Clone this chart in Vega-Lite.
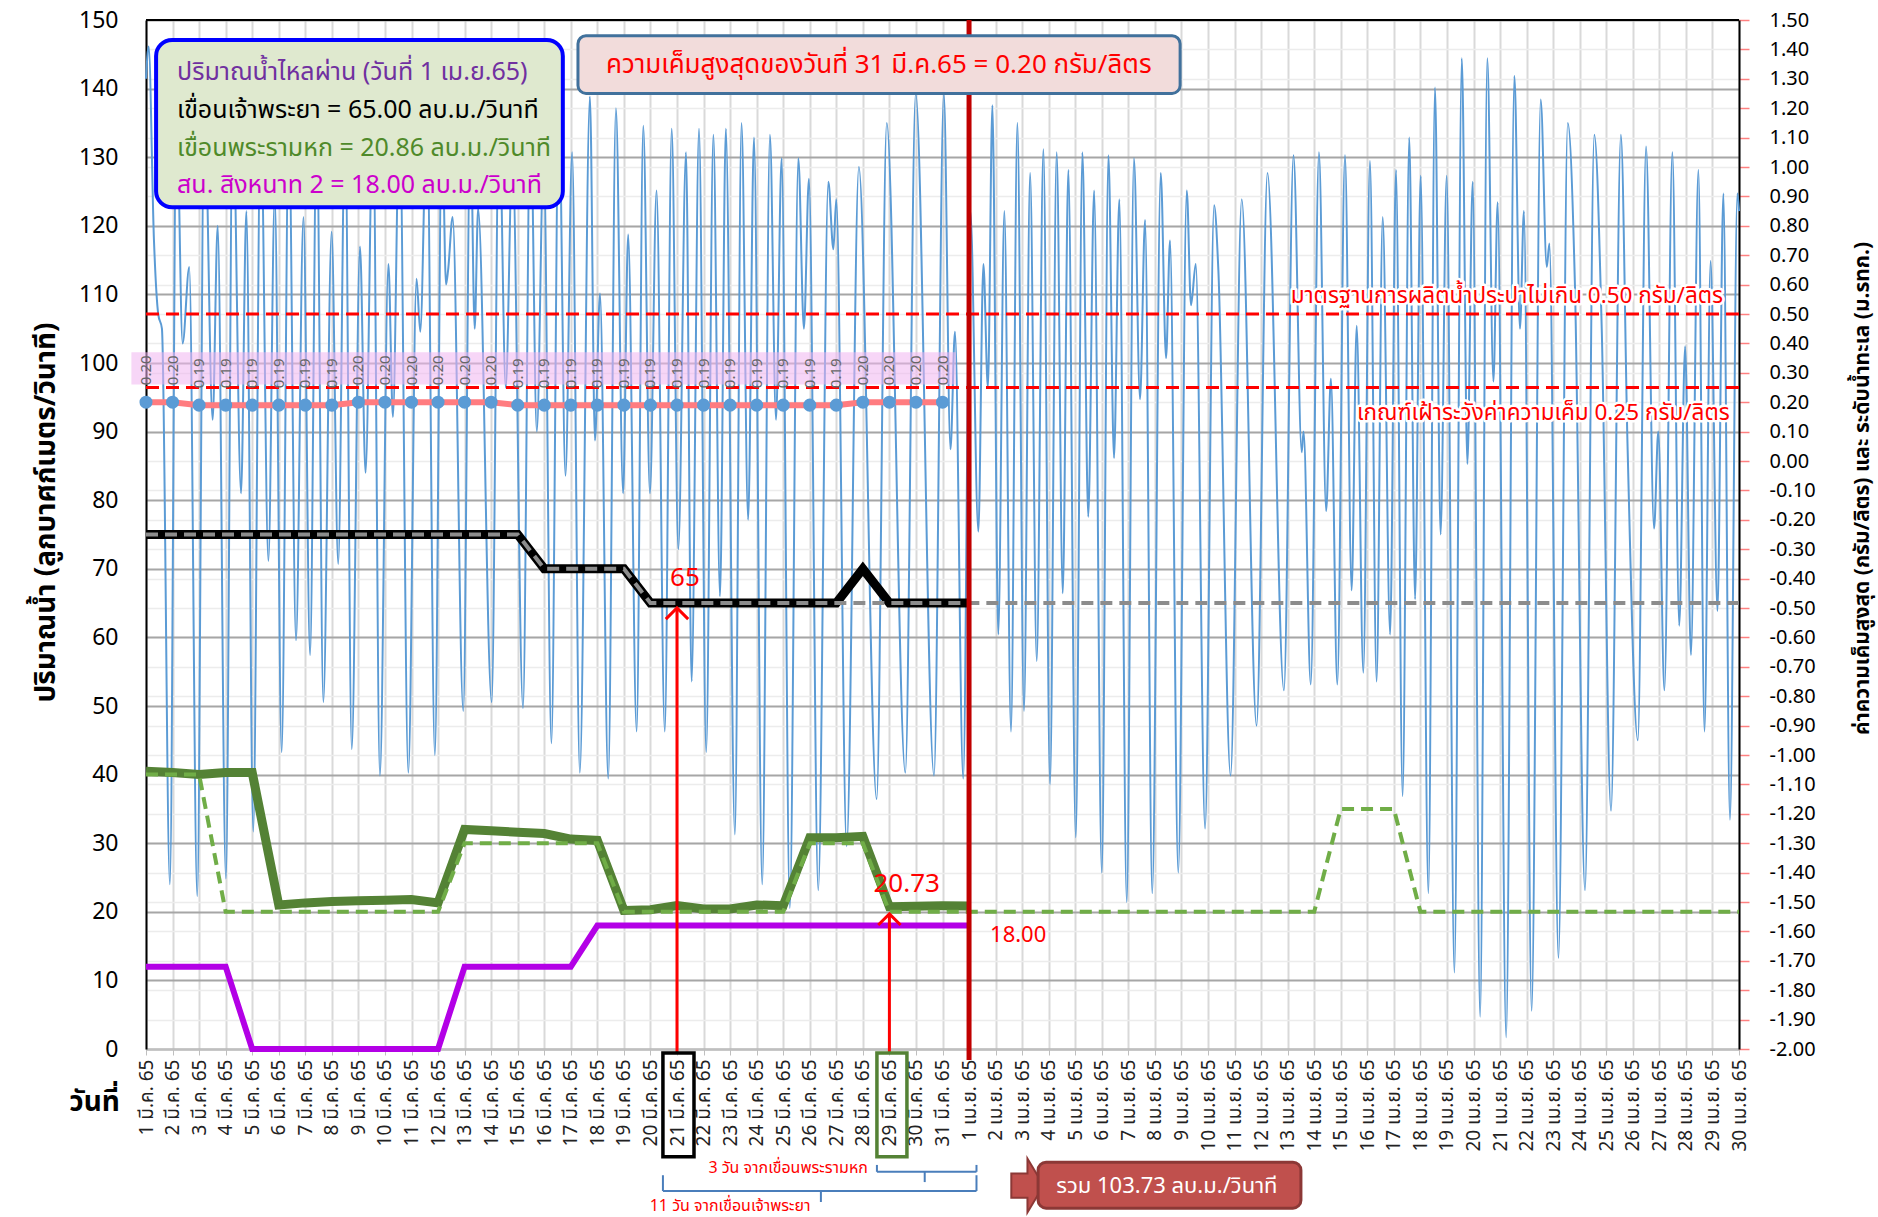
{
"$schema": "https://vega.github.io/schema/vega-lite/v6.json",
"width": 1593, "height": 1029,
"autosize": {"type": "none"},
"padding": {"left": 146, "top": 20, "right": 139, "bottom": 168},
"background": "#ffffff",
"config": {"view": {"stroke": null}, "font": "Noto Sans Thai, Tahoma, Noto Sans, DejaVu Sans, sans-serif", "axis": {"labelOverlap": false}},
"data": {"values": [{}]},
"datasets": {
"tide": [{"d":0,"r":1.3},{"d":0.1,"r":1.41},{"d":0.3,"r":0.75},{"d":0.46,"r":0.5},{"d":0.6,"r":0.45},{"d":0.9,"r":-1.44},{"d":1.15,"r":1.2},{"d":1.38,"r":0.4},{"d":1.63,"r":0.66},{"d":1.93,"r":-1.48},{"d":2.2,"r":1.22},{"d":2.51,"r":0.14},{"d":2.7,"r":0.8},{"d":3.01,"r":-1.42},{"d":3.27,"r":1.2},{"d":3.58,"r":-0.11},{"d":3.78,"r":0.85},{"d":4.04,"r":-1.26},{"d":4.32,"r":1.18},{"d":4.61,"r":-0.34},{"d":4.85,"r":0.9},{"d":5.11,"r":-0.99},{"d":5.38,"r":1.15},{"d":5.65,"r":-0.61},{"d":5.93,"r":0.83},{"d":6.18,"r":-0.66},{"d":6.43,"r":1.15},{"d":6.68,"r":-0.82},{"d":6.99,"r":0.78},{"d":7.24,"r":-0.35},{"d":7.5,"r":1.15},{"d":7.75,"r":-0.98},{"d":8.06,"r":0.73},{"d":8.27,"r":-0.04},{"d":8.55,"r":1.18},{"d":8.81,"r":-1.07},{"d":9.13,"r":0.67},{"d":9.3,"r":0.15},{"d":9.55,"r":1.18},{"d":9.88,"r":-1.06},{"d":10.19,"r":0.62},{"d":10.33,"r":0.44},{"d":10.58,"r":1.18},{"d":10.88,"r":-1.0},{"d":11.15,"r":1.15},{"d":11.3,"r":0.6},{"d":11.38,"r":0.65},{"d":11.55,"r":0.83},{"d":11.95,"r":-0.85},{"d":12.22,"r":1.15},{"d":12.38,"r":0.45},{"d":12.51,"r":0.86},{"d":13.02,"r":-0.82},{"d":13.3,"r":1.18},{"d":13.55,"r":0.25},{"d":13.8,"r":1.05},{"d":14.2,"r":-0.84},{"d":14.48,"r":1.2},{"d":14.72,"r":0.1},{"d":14.98,"r":1.05},{"d":15.27,"r":-0.96},{"d":15.55,"r":1.22},{"d":15.8,"r":-0.05},{"d":16.05,"r":1.05},{"d":16.34,"r":-1.06},{"d":16.72,"r":1.24},{"d":16.91,"r":0.07},{"d":17.1,"r":0.57},{"d":17.41,"r":-1.08},{"d":17.7,"r":1.2},{"d":17.97,"r":-0.11},{"d":18.16,"r":0.77},{"d":18.48,"r":-0.92},{"d":18.73,"r":1.14},{"d":18.98,"r":-0.11},{"d":19.23,"r":0.92},{"d":19.54,"r":-0.92},{"d":19.8,"r":1.13},{"d":20.05,"r":-0.3},{"d":20.34,"r":1.05},{"d":20.55,"r":-0.75},{"d":20.83,"r":1.13},{"d":21.1,"r":-0.99},{"d":21.37,"r":1.11},{"d":21.62,"r":-0.46},{"d":21.84,"r":1.13},{"d":22.18,"r":-1.27},{"d":22.43,"r":1.15},{"d":22.68,"r":-0.2},{"d":22.9,"r":1.1},{"d":23.21,"r":-1.44},{"d":23.5,"r":1.11},{"d":23.73,"r":0.14},{"d":23.94,"r":1.03},{"d":24.25,"r":-1.52},{"d":24.57,"r":1.03},{"d":24.78,"r":0.45},{"d":24.97,"r":0.96},{"d":25.32,"r":-1.46},{"d":25.7,"r":0.95},{"d":25.89,"r":0.72},{"d":26.0,"r":0.89},{"d":26.39,"r":-1.31},{"d":26.85,"r":1.0},{"d":27.52,"r":-1.15},{"d":27.9,"r":1.15},{"d":28.6,"r":-1.06},{"d":28.99,"r":1.25},{"d":29.68,"r":-1.07},{"d":30.05,"r":1.25},{"d":30.3,"r":0.04},{"d":30.47,"r":0.44},{"d":30.78,"r":-1.08},{"d":31.05,"r":0.85},{"d":31.35,"r":-0.24},{"d":31.54,"r":0.67},{"d":31.71,"r":0.25},{"d":31.88,"r":1.21},{"d":32.1,"r":-0.59},{"d":32.33,"r":0.85},{"d":32.58,"r":-0.92},{"d":32.82,"r":1.15},{"d":33.07,"r":-0.85},{"d":33.3,"r":0.98},{"d":33.55,"r":-0.68},{"d":33.8,"r":1.06},{"d":34.05,"r":-1.1},{"d":34.3,"r":1.05},{"d":34.53,"r":-0.45},{"d":34.74,"r":0.99},{"d":35.02,"r":-1.28},{"d":35.27,"r":1.05},{"d":35.49,"r":-0.19},{"d":35.71,"r":0.92},{"d":36.0,"r":-1.4},{"d":36.25,"r":1.04},{"d":36.46,"r":0.01},{"d":36.66,"r":0.89},{"d":36.94,"r":-1.5},{"d":37.21,"r":1.03},{"d":37.44,"r":0.21},{"d":37.63,"r":0.82},{"d":37.9,"r":-1.47},{"d":38.22,"r":0.98},{"d":38.42,"r":0.35},{"d":38.57,"r":0.75},{"d":38.88,"r":-1.4},{"d":39.2,"r":0.92},{"d":39.36,"r":0.53},{"d":39.54,"r":0.67},{"d":39.89,"r":-1.25},{"d":40.23,"r":0.87},{"d":40.39,"r":0.65},{"d":40.85,"r":-1.07},{"d":41.27,"r":0.89},{"d":41.83,"r":-0.9},{"d":42.24,"r":0.98},{"d":42.86,"r":-0.78},{"d":43.22,"r":1.04},{"d":43.53,"r":0.03},{"d":43.6,"r":0.1},{"d":43.87,"r":-0.76},{"d":44.18,"r":1.05},{"d":44.45,"r":-0.17},{"d":44.63,"r":0.28},{"d":44.87,"r":-0.76},{"d":45.16,"r":1.04},{"d":45.41,"r":-0.44},{"d":45.6,"r":0.46},{"d":45.85,"r":-0.72},{"d":46.1,"r":1.02},{"d":46.35,"r":-0.75},{"d":46.58,"r":0.83},{"d":46.86,"r":-0.59},{"d":47.08,"r":0.99},{"d":47.33,"r":-1.14},{"d":47.58,"r":1.1},{"d":47.8,"r":-0.47},{"d":48.01,"r":0.97},{"d":48.3,"r":-1.47},{"d":48.55,"r":1.27},{"d":48.76,"r":-0.25},{"d":48.99,"r":0.97},{"d":49.28,"r":-1.74},{"d":49.56,"r":1.37},{"d":49.77,"r":-0.01},{"d":49.97,"r":0.95},{"d":50.25,"r":-1.89},{"d":50.52,"r":1.37},{"d":50.75,"r":0.27},{"d":50.91,"r":0.88},{"d":51.23,"r":-1.96},{"d":51.54,"r":1.31},{"d":51.75,"r":0.45},{"d":51.9,"r":0.85},{"d":52.19,"r":-1.87},{"d":52.53,"r":1.23},{"d":52.76,"r":0.66},{"d":52.86,"r":0.74},{"d":53.2,"r":-1.69},{"d":53.55,"r":1.15},{"d":53.82,"r":0.6},{"d":54.2,"r":-1.46},{"d":54.55,"r":1.11},{"d":54.83,"r":0.45},{"d":55.18,"r":-1.19},{"d":55.55,"r":1.11},{"d":55.8,"r":0.06},{"d":56.19,"r":-0.95},{"d":56.5,"r":1.07},{"d":56.8,"r":-0.23},{"d":56.96,"r":0.1},{"d":57.19,"r":-0.78},{"d":57.49,"r":1.05},{"d":57.75,"r":-0.56},{"d":57.97,"r":0.39},{"d":58.19,"r":-0.66},{"d":58.47,"r":0.99},{"d":58.7,"r":-0.92},{"d":58.93,"r":0.68},{"d":59.19,"r":-0.51},{"d":59.41,"r":0.91},{"d":59.66,"r":-1.22},{"d":59.94,"r":0.91},{"d":60,"r":0.85}],
"sal": [{"d":0,"r":0.2},{"d":1,"r":0.2},{"d":2,"r":0.19},{"d":3,"r":0.19},{"d":4,"r":0.19},{"d":5,"r":0.19},{"d":6,"r":0.19},{"d":7,"r":0.19},{"d":8,"r":0.2},{"d":9,"r":0.2},{"d":10,"r":0.2},{"d":11,"r":0.2},{"d":12,"r":0.2},{"d":13,"r":0.2},{"d":14,"r":0.19},{"d":15,"r":0.19},{"d":16,"r":0.19},{"d":17,"r":0.19},{"d":18,"r":0.19},{"d":19,"r":0.19},{"d":20,"r":0.19},{"d":21,"r":0.19},{"d":22,"r":0.19},{"d":23,"r":0.19},{"d":24,"r":0.19},{"d":25,"r":0.19},{"d":26,"r":0.19},{"d":27,"r":0.2},{"d":28,"r":0.2},{"d":29,"r":0.2},{"d":30,"r":0.2}],
"lim": [{"r":0.5},{"r":0.25}],
"cp": [{"d":0,"v":75},{"d":1,"v":75},{"d":2,"v":75},{"d":3,"v":75},{"d":4,"v":75},{"d":5,"v":75},{"d":6,"v":75},{"d":7,"v":75},{"d":8,"v":75},{"d":9,"v":75},{"d":10,"v":75},{"d":11,"v":75},{"d":12,"v":75},{"d":13,"v":75},{"d":14,"v":75},{"d":15,"v":70},{"d":16,"v":70},{"d":17,"v":70},{"d":18,"v":70},{"d":19,"v":65},{"d":20,"v":65},{"d":21,"v":65},{"d":22,"v":65},{"d":23,"v":65},{"d":24,"v":65},{"d":25,"v":65},{"d":26,"v":65},{"d":27,"v":70},{"d":28,"v":65},{"d":29,"v":65},{"d":30,"v":65},{"d":31,"v":65}],
"cpPlan": [{"d":0,"v":75},{"d":1,"v":75},{"d":2,"v":75},{"d":3,"v":75},{"d":4,"v":75},{"d":5,"v":75},{"d":6,"v":75},{"d":7,"v":75},{"d":8,"v":75},{"d":9,"v":75},{"d":10,"v":75},{"d":11,"v":75},{"d":12,"v":75},{"d":13,"v":75},{"d":14,"v":75},{"d":15,"v":70},{"d":16,"v":70},{"d":17,"v":70},{"d":18,"v":70},{"d":19,"v":65},{"d":20,"v":65},{"d":21,"v":65},{"d":22,"v":65},{"d":23,"v":65},{"d":24,"v":65},{"d":25,"v":65},{"d":26,"v":65},{"d":27,"v":65},{"d":28,"v":65},{"d":29,"v":65},{"d":30,"v":65},{"d":31,"v":65},{"d":32,"v":65},{"d":33,"v":65},{"d":34,"v":65},{"d":35,"v":65},{"d":36,"v":65},{"d":37,"v":65},{"d":38,"v":65},{"d":39,"v":65},{"d":40,"v":65},{"d":41,"v":65},{"d":42,"v":65},{"d":43,"v":65},{"d":44,"v":65},{"d":45,"v":65},{"d":46,"v":65},{"d":47,"v":65},{"d":48,"v":65},{"d":49,"v":65},{"d":50,"v":65},{"d":51,"v":65},{"d":52,"v":65},{"d":53,"v":65},{"d":54,"v":65},{"d":55,"v":65},{"d":56,"v":65},{"d":57,"v":65},{"d":58,"v":65},{"d":59,"v":65},{"d":60,"v":65}],
"pr": [{"d":0,"v":40.5},{"d":1,"v":40.3},{"d":2,"v":40.0},{"d":3,"v":40.3},{"d":4,"v":40.3},{"d":5,"v":21.0},{"d":6,"v":21.3},{"d":7,"v":21.5},{"d":8,"v":21.6},{"d":9,"v":21.7},{"d":10,"v":21.8},{"d":11,"v":21.3},{"d":12,"v":32.0},{"d":13,"v":31.8},{"d":14,"v":31.6},{"d":15,"v":31.4},{"d":16,"v":30.6},{"d":17,"v":30.4},{"d":18,"v":20.2},{"d":19,"v":20.3},{"d":20,"v":20.9},{"d":21,"v":20.4},{"d":22,"v":20.4},{"d":23,"v":21.0},{"d":24,"v":20.9},{"d":25,"v":30.8},{"d":26,"v":30.8},{"d":27,"v":31.0},{"d":28,"v":20.73},{"d":29,"v":20.8},{"d":30,"v":20.9},{"d":31,"v":20.86}],
"prPlan": [{"d":0,"v":40},{"d":1,"v":40},{"d":2,"v":40},{"d":3,"v":20},{"d":4,"v":20},{"d":5,"v":20},{"d":6,"v":20},{"d":7,"v":20},{"d":8,"v":20},{"d":9,"v":20},{"d":10,"v":20},{"d":11,"v":20},{"d":12,"v":30},{"d":13,"v":30},{"d":14,"v":30},{"d":15,"v":30},{"d":16,"v":30},{"d":17,"v":30},{"d":18,"v":20},{"d":19,"v":20},{"d":20,"v":20},{"d":21,"v":20},{"d":22,"v":20},{"d":23,"v":20},{"d":24,"v":20},{"d":25,"v":30},{"d":26,"v":30},{"d":27,"v":30},{"d":28,"v":20},{"d":29,"v":20},{"d":30,"v":20},{"d":31,"v":20},{"d":32,"v":20},{"d":33,"v":20},{"d":34,"v":20},{"d":35,"v":20},{"d":36,"v":20},{"d":37,"v":20},{"d":38,"v":20},{"d":39,"v":20},{"d":40,"v":20},{"d":41,"v":20},{"d":42,"v":20},{"d":43,"v":20},{"d":44,"v":20},{"d":45,"v":35},{"d":46,"v":35},{"d":47,"v":35},{"d":48,"v":20},{"d":49,"v":20},{"d":50,"v":20},{"d":51,"v":20},{"d":52,"v":20},{"d":53,"v":20},{"d":54,"v":20},{"d":55,"v":20},{"d":56,"v":20},{"d":57,"v":20},{"d":58,"v":20},{"d":59,"v":20},{"d":60,"v":20}],
"sn": [{"d":0,"v":12},{"d":1,"v":12},{"d":2,"v":12},{"d":3,"v":12},{"d":4,"v":0},{"d":5,"v":0},{"d":6,"v":0},{"d":7,"v":0},{"d":8,"v":0},{"d":9,"v":0},{"d":10,"v":0},{"d":11,"v":0},{"d":12,"v":12},{"d":13,"v":12},{"d":14,"v":12},{"d":15,"v":12},{"d":16,"v":12},{"d":17,"v":18},{"d":18,"v":18},{"d":19,"v":18},{"d":20,"v":18},{"d":21,"v":18},{"d":22,"v":18},{"d":23,"v":18},{"d":24,"v":18},{"d":25,"v":18},{"d":26,"v":18},{"d":27,"v":18},{"d":28,"v":18},{"d":29,"v":18},{"d":30,"v":18},{"d":31,"v":18}],
"braces": [{"xa":27.53,"xb":27.53,"ya":-16.9,"yb":-17.9},{"xa":27.53,"xb":31.28,"ya":-17.9,"yb":-17.9},{"xa":31.28,"xb":31.28,"ya":-16.9,"yb":-17.9},{"xa":29.33,"xb":29.33,"ya":-17.9,"yb":-19.4},{"xa":19.47,"xb":19.47,"ya":-18.4,"yb":-20.7},{"xa":19.47,"xb":31.28,"ya":-20.7,"yb":-20.7},{"xa":31.28,"xb":31.28,"ya":-18.4,"yb":-20.7},{"xa":25.42,"xb":25.42,"ya":-20.7,"yb":-22.3}]
},
"layer": [
{"layer": [
 {"data": {"name": "tide"}, "mark": {"type": "line", "color": "#5b9bd5", "strokeWidth": 2, "interpolate": "monotone"},
  "encoding": {
   "x": {"field": "d", "type": "quantitative", "scale": {"domain": [0, 60], "nice": false, "zero": false},
     "axis": {"values": [0,1,2,3,4,5,6,7,8,9,10,11,12,13,14,15,16,17,18,19,20,21,22,23,24,25,26,27,28,29,30,31,32,33,34,35,36,37,38,39,40,41,42,43,44,45,46,47,48,49,50,51,52,53,54,55,56,57,58,59,60], "tickCount": 200,
       "labelExpr": "datum.value < 31 ? (datum.value + 1) + ' มี.ค. 65' : (datum.value - 30) + ' เม.ย. 65'",
       "labelAngle": -90, "labelFontSize": 19, "labelColor": "#222222", "labelOverlap": false, "labelFlush": false, "labelBound": false, "labelPadding": 4,
       "grid": true, "gridColor": "#d9d9d9", "gridWidth": 2, "domainColor": "#bfbfbf", "domainWidth": 2, "tickColor": "#bfbfbf", "tickSize": 6,
       "title": "วันที่", "titleFontSize": 28, "titleFontWeight": "bold", "titleColor": "#000000", "titleX": -52, "titleY": 53, "titleAngle": 0, "titleAlign": "center", "titleBaseline": "middle"}},
   "y": {"field": "r", "type": "quantitative", "scale": {"domain": [-2, 1.5], "nice": false, "zero": false},
     "axis": {"orient": "right", "values": [-2,-1.9,-1.8,-1.7,-1.6,-1.5,-1.4,-1.3,-1.2,-1.1,-1,-0.9,-0.8,-0.7,-0.6,-0.5,-0.4,-0.3,-0.2,-0.1,0,0.1,0.2,0.3,0.4,0.5,0.6,0.7,0.8,0.9,1,1.1,1.2,1.3,1.4,1.5], "tickCount": 200,
       "labelExpr": "replace(format(datum.value, '.2f'), '−', '-')", "labelFontSize": 20, "labelColor": "#000000", "labelPadding": 20, "labelOverlap": false,
       "tickColor": "#ff8080", "tickSize": 10, "tickWidth": 1.5, "domainColor": "#000000", "domainWidth": 2,
       "grid": true, "gridColor": "#ececec", "gridWidth": 1.5,
       "title": "ค่าความเค็มสูงสุด  (กรัม/ลิตร) และ ระดับน้ำทะเล (ม.รทก.)", "titleAngle": -90, "titleBaseline": "top", "titleY": 468, "titleFontSize": 21, "titleFontWeight": "bold", "titleColor": "#000000", "titlePadding": 36}}
  }},
 {"mark": {"type": "rect", "color": "#f0b4f0", "opacity": 0.55},
  "encoding": {"x": {"datum": -0.55}, "x2": {"datum": 30.5}, "y": {"datum": 0.26}, "y2": {"datum": 0.37}}},
 {"data": {"name": "lim"}, "mark": {"type": "rule", "color": "#ff0000", "strokeWidth": 3, "strokeDash": [13, 7]},
  "encoding": {"y": {"field": "r", "type": "quantitative"}}},
 {"mark": {"type": "text", "text": "มาตรฐานการผลิตน้ำประปาไม่เกิน 0.50 กรัม/ลิตร", "align": "right", "baseline": "middle", "fontSize": 22.5, "color": "#ffffff", "stroke": "#ffffff", "strokeWidth": 5, "strokeJoin": "round"},
  "encoding": {"x": {"datum": 59.4}, "y": {"datum": 0.56}}},
 {"mark": {"type": "text", "text": "มาตรฐานการผลิตน้ำประปาไม่เกิน 0.50 กรัม/ลิตร", "align": "right", "baseline": "middle", "fontSize": 22.5, "color": "#ff0000"},
  "encoding": {"x": {"datum": 59.4}, "y": {"datum": 0.56}}},
 {"mark": {"type": "text", "text": "เกณฑ์เฝ้าระวังค่าความเค็ม 0.25 กรัม/ลิตร", "align": "right", "baseline": "middle", "fontSize": 22.5, "color": "#ffffff", "stroke": "#ffffff", "strokeWidth": 5, "strokeJoin": "round"},
  "encoding": {"x": {"datum": 59.65}, "y": {"datum": 0.163}}},
 {"mark": {"type": "text", "text": "เกณฑ์เฝ้าระวังค่าความเค็ม 0.25 กรัม/ลิตร", "align": "right", "baseline": "middle", "fontSize": 22.5, "color": "#ff0000"},
  "encoding": {"x": {"datum": 59.65}, "y": {"datum": 0.163}}},
 {"data": {"name": "sal"}, "mark": {"type": "line", "color": "#ff7c80", "strokeWidth": 6},
  "encoding": {"x": {"field": "d", "type": "quantitative"}, "y": {"field": "r", "type": "quantitative"}}},
 {"data": {"name": "sal"}, "mark": {"type": "circle", "color": "#5b9bd5", "size": 170, "opacity": 1},
  "encoding": {"x": {"field": "d", "type": "quantitative"}, "y": {"field": "r", "type": "quantitative"}}},
 {"data": {"name": "sal"}, "mark": {"type": "text", "angle": 270, "align": "left", "baseline": "middle", "dx": 17, "fontSize": 15, "color": "#666666"},
  "encoding": {"x": {"field": "d", "type": "quantitative"}, "y": {"field": "r", "type": "quantitative"}, "text": {"field": "r", "type": "quantitative", "format": ".2f"}}}
]},
{"layer": [
 {"data": {"name": "sn"}, "mark": {"type": "line", "color": "#b300e6", "strokeWidth": 6},
  "encoding": {"x": {"field": "d", "type": "quantitative"},
   "y": {"field": "v", "type": "quantitative", "scale": {"domain": [0, 150], "nice": false, "zero": false},
    "axis": {"orient": "left", "values": [0,10,20,30,40,50,60,70,80,90,100,110,120,130,140,150], "tickCount": 200, "labelFontSize": 23, "labelColor": "#000000", "ticks": false, "labelPadding": 28,
      "domainColor": "#000000", "domainWidth": 2, "grid": true, "gridColor": "#a6a6a6", "gridWidth": 2,
      "title": "ปริมาณน้ำ (ลูกบาศก์เมตร/วินาที)", "titleY": 492, "titleFontSize": 28, "titleFontWeight": "bold", "titleColor": "#000000", "titlePadding": 18}}}},
 {"data": {"name": "pr"}, "mark": {"type": "line", "color": "#548235", "strokeWidth": 9},
  "encoding": {"x": {"field": "d", "type": "quantitative"}, "y": {"field": "v", "type": "quantitative"}}},
 {"data": {"name": "prPlan"}, "mark": {"type": "line", "color": "#70ad47", "strokeWidth": 4, "strokeDash": [12, 7]},
  "encoding": {"x": {"field": "d", "type": "quantitative"}, "y": {"field": "v", "type": "quantitative"}}},
 {"data": {"name": "cp"}, "mark": {"type": "line", "color": "#000000", "strokeWidth": 9},
  "encoding": {"x": {"field": "d", "type": "quantitative"}, "y": {"field": "v", "type": "quantitative"}}},
 {"data": {"name": "cpPlan"}, "mark": {"type": "line", "color": "#8c8c8c", "strokeWidth": 4, "strokeDash": [12, 7]},
  "encoding": {"x": {"field": "d", "type": "quantitative"}, "y": {"field": "v", "type": "quantitative"}}},
 {"mark": {"type": "rule", "color": "#000000", "strokeWidth": 2},
  "encoding": {"x": {"datum": 0}, "x2": {"datum": 60}, "y": {"datum": 150}}},
 {"mark": {"type": "rule", "color": "#c00000", "strokeWidth": 5},
  "encoding": {"x": {"datum": 31}, "y": {"datum": -1.6}, "y2": {"datum": 150}}},
 {"mark": {"type": "rule", "color": "#ff0000", "strokeWidth": 3},
  "encoding": {"x": {"datum": 20}, "y": {"datum": -0.6}, "y2": {"datum": 64.3}}},
 {"mark": {"type": "point", "shape": "M-1,1L0,0L1,1", "filled": false, "color": "#ff0000", "strokeWidth": 3, "size": 500, "opacity": 1},
  "encoding": {"x": {"datum": 20}, "y": {"datum": 64.3}}},
 {"mark": {"type": "rule", "color": "#ff0000", "strokeWidth": 3},
  "encoding": {"x": {"datum": 28}, "y": {"datum": -0.6}, "y2": {"datum": 19.7}}},
 {"mark": {"type": "point", "shape": "M-1,1L0,0L1,1", "filled": false, "color": "#ff0000", "strokeWidth": 3, "size": 500, "opacity": 1},
  "encoding": {"x": {"datum": 28}, "y": {"datum": 19.7}}},
 {"mark": {"type": "rect", "fillOpacity": 0, "stroke": "#000000", "strokeWidth": 3.5},
  "encoding": {"x": {"datum": 19.47}, "x2": {"datum": 20.64}, "y": {"datum": -0.6}, "y2": {"datum": -15.7}}},
 {"mark": {"type": "rect", "fillOpacity": 0, "stroke": "#548235", "strokeWidth": 3.5},
  "encoding": {"x": {"datum": 27.53}, "x2": {"datum": 28.66}, "y": {"datum": -0.6}, "y2": {"datum": -15.7}}},
 {"mark": {"type": "text", "text": "65", "align": "center", "baseline": "middle", "fontSize": 26, "color": "#ff0000"},
  "encoding": {"x": {"datum": 20.3}, "y": {"datum": 68.7}}},
 {"mark": {"type": "text", "text": "20.73", "align": "center", "baseline": "middle", "fontSize": 26, "color": "#ff0000"},
  "encoding": {"x": {"datum": 28.65}, "y": {"datum": 24.1}}},
 {"mark": {"type": "text", "text": "18.00", "align": "center", "baseline": "middle", "fontSize": 22, "color": "#ff0000"},
  "encoding": {"x": {"datum": 32.85}, "y": {"datum": 16.6}}},
 {"mark": {"type": "rect", "color": "#dfe9cf", "stroke": "#0000ff", "strokeWidth": 4, "cornerRadius": 16, "opacity": 1},
  "encoding": {"x": {"datum": 0.38}, "x2": {"datum": 15.7}, "y": {"datum": 147.1}, "y2": {"datum": 122.7}}},
 {"mark": {"type": "text", "text": "ปริมาณน้ำไหลผ่าน (วันที่ 1 เม.ย.65)", "align": "left", "baseline": "middle", "fontSize": 25, "color": "#7030a0"},
  "encoding": {"x": {"datum": 1.17}, "y": {"datum": 142.4}}},
 {"mark": {"type": "text", "text": "เขื่อนเจ้าพระยา = 65.00 ลบ.ม./วินาที", "align": "left", "baseline": "middle", "fontSize": 25, "color": "#000000"},
  "encoding": {"x": {"datum": 1.17}, "y": {"datum": 136.9}}},
 {"mark": {"type": "text", "text": "เขื่อนพระรามหก = 20.86 ลบ.ม./วินาที", "align": "left", "baseline": "middle", "fontSize": 25, "color": "#4f8a2a"},
  "encoding": {"x": {"datum": 1.17}, "y": {"datum": 131.4}}},
 {"mark": {"type": "text", "text": "สน. สิงหนาท 2 = 18.00 ลบ.ม./วินาที", "align": "left", "baseline": "middle", "fontSize": 25, "color": "#cc00cc"},
  "encoding": {"x": {"datum": 1.17}, "y": {"datum": 126.0}}},
 {"mark": {"type": "rect", "color": "#f2dcdb", "stroke": "#41719c", "strokeWidth": 3, "cornerRadius": 8, "opacity": 1},
  "encoding": {"x": {"datum": 16.27}, "x2": {"datum": 38.95}, "y": {"datum": 147.7}, "y2": {"datum": 139.3}}},
 {"mark": {"type": "text", "text": "ความเค็มสูงสุดของวันที่ 31 มี.ค.65 = 0.20 กรัม/ลิตร", "align": "center", "baseline": "middle", "fontSize": 26, "color": "#ff0000"},
  "encoding": {"x": {"datum": 27.6}, "y": {"datum": 143.5}}},
 {"data": {"name": "braces"}, "mark": {"type": "rule", "color": "#4a7ebb", "strokeWidth": 2},
  "encoding": {"x": {"field": "xa", "type": "quantitative"}, "x2": {"field": "xb"}, "y": {"field": "ya", "type": "quantitative"}, "y2": {"field": "yb"}}},
 {"mark": {"type": "text", "text": "3 วัน จากเขื่อนพระรามหก", "align": "right", "baseline": "middle", "fontSize": 16, "color": "#ff0000"},
  "encoding": {"x": {"datum": 27.19}, "y": {"datum": -17.3}}},
 {"mark": {"type": "text", "text": "11 วัน จากเขื่อนเจ้าพระยา", "align": "center", "baseline": "bottom", "fontSize": 16, "color": "#ff0000"},
  "encoding": {"x": {"datum": 22.0}, "y": {"datum": -24.0}}},
 {"mark": {"type": "point", "shape": "M-0.6,-0.45L0,-0.45L0,-1L0.6,0L0,1L0,0.45L-0.6,0.45Z", "filled": true, "color": "#c0504d", "stroke": "#8c3836", "strokeWidth": 2, "size": 2900, "opacity": 1},
  "encoding": {"x": {"datum": 33.2}, "y": {"datum": -19.9}}},
 {"mark": {"type": "rect", "color": "#c0504d", "stroke": "#8c3836", "strokeWidth": 3, "cornerRadius": 8, "opacity": 1},
  "encoding": {"x": {"datum": 33.6}, "x2": {"datum": 43.5}, "y": {"datum": -16.5}, "y2": {"datum": -23.2}}},
 {"mark": {"type": "text", "text": "รวม 103.73 ลบ.ม./วินาที", "align": "center", "baseline": "middle", "fontSize": 22, "color": "#ffffff"},
  "encoding": {"x": {"datum": 38.45}, "y": {"datum": -19.9}}}
]}
],
"resolve": {"scale": {"y": "independent"}}
}
